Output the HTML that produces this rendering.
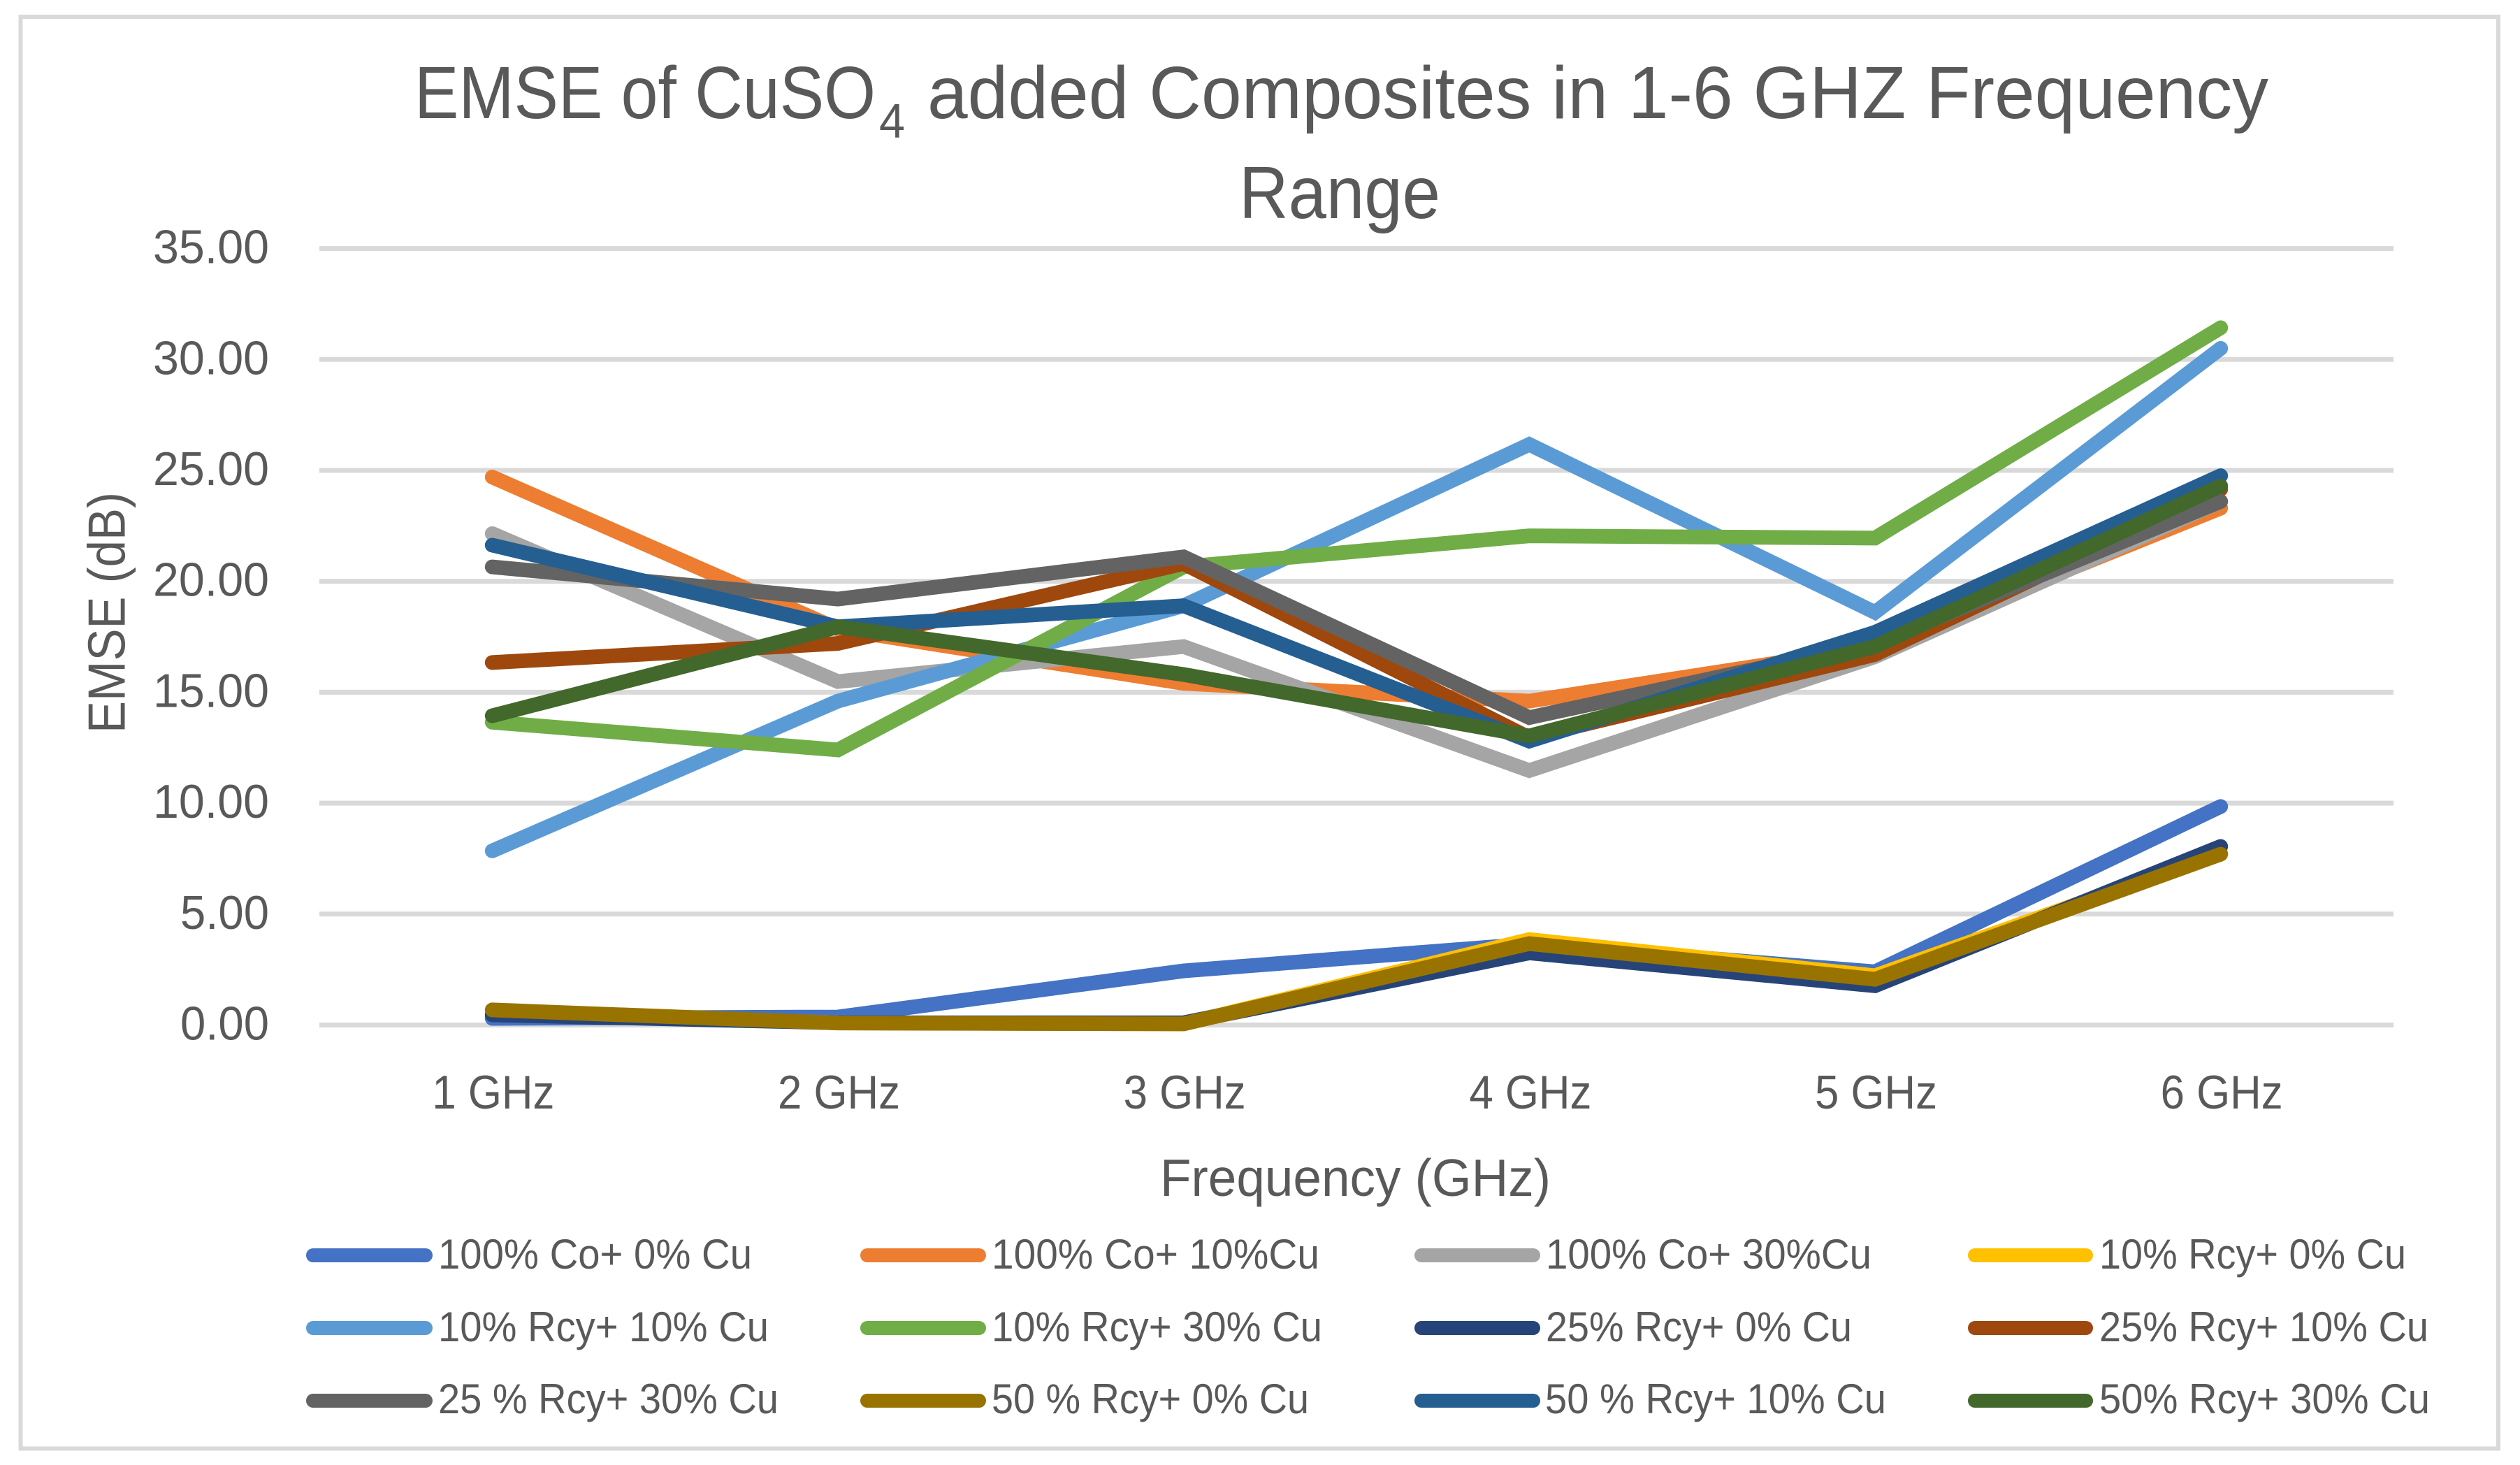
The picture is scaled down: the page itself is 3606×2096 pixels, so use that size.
<!DOCTYPE html>
<html lang="en">
<head>
<meta charset="utf-8">
<title>EMSE of CuSO4 added Composites in 1-6 GHZ Frequency Range</title>
<style>
  html, body { margin: 0; padding: 0; background: #ffffff; }
  svg { display: block; }
  text { font-family: "Liberation Sans", sans-serif; fill: #595959; }
</style>
</head>
<body>
<svg id="chart" xmlns="http://www.w3.org/2000/svg" width="3606" height="2096" viewBox="0 0 3606 2096">
  <rect x="0" y="0" width="3606" height="2096" fill="#ffffff"/>
  <rect x="29.5" y="24" width="3545.5" height="2048.5" fill="#ffffff" stroke="#d9d9d9" stroke-width="6"/>

  <g>
    <text x="593" y="169" font-size="106" textLength="660" lengthAdjust="spacingAndGlyphs">EMSE of CuSO</text>
    <text x="1258" y="197" font-size="70" textLength="37" lengthAdjust="spacingAndGlyphs">4</text>
    <text x="1327" y="169" font-size="106" textLength="1919" lengthAdjust="spacingAndGlyphs">added Composites in 1-6 GHZ Frequency</text>
    <text x="1773" y="312" font-size="106" textLength="288" lengthAdjust="spacingAndGlyphs">Range</text>
  </g>

  <g id="grid"></g>
  <g id="yTickGroup"></g>
  <g id="xTickGroup"></g>

  <text transform="translate(178.5 1049) rotate(-90)" x="0" y="0" font-size="75" textLength="345" lengthAdjust="spacingAndGlyphs">EMSE (dB)</text>
  <text x="1660" y="1711" font-size="75" textLength="559" lengthAdjust="spacingAndGlyphs">Frequency (GHz)</text>

  <g id="seriesGroup"></g>

  <g font-size="60">
    <g>
      <line x1="448" x2="609" y1="1796" y2="1796" stroke="#4472C4" stroke-width="20" stroke-linecap="round"/>
      <text x="627" y="1815" textLength="449" lengthAdjust="spacingAndGlyphs">100% Co+ 0% Cu</text>
    </g>
    <g>
      <line x1="1241" x2="1401" y1="1796" y2="1796" stroke="#ED7D31" stroke-width="20" stroke-linecap="round"/>
      <text x="1419" y="1815" textLength="469" lengthAdjust="spacingAndGlyphs">100% Co+ 10%Cu</text>
    </g>
    <g>
      <line x1="2034" x2="2194" y1="1796" y2="1796" stroke="#A5A5A5" stroke-width="20" stroke-linecap="round"/>
      <text x="2212" y="1815" textLength="466" lengthAdjust="spacingAndGlyphs">100% Co+ 30%Cu</text>
    </g>
    <g>
      <line x1="2826" x2="2985" y1="1796" y2="1796" stroke="#FFC000" stroke-width="20" stroke-linecap="round"/>
      <text x="3004" y="1815" textLength="439" lengthAdjust="spacingAndGlyphs">10% Rcy+ 0% Cu</text>
    </g>

    <g>
      <line x1="448" x2="609" y1="1900" y2="1900" stroke="#5B9BD5" stroke-width="20" stroke-linecap="round"/>
      <text x="627" y="1919" textLength="473" lengthAdjust="spacingAndGlyphs">10% Rcy+ 10% Cu</text>
    </g>
    <g>
      <line x1="1241" x2="1401" y1="1900" y2="1900" stroke="#70AD47" stroke-width="20" stroke-linecap="round"/>
      <text x="1419" y="1919" textLength="473" lengthAdjust="spacingAndGlyphs">10% Rcy+ 30% Cu</text>
    </g>
    <g>
      <line x1="2034" x2="2194" y1="1900" y2="1900" stroke="#264478" stroke-width="20" stroke-linecap="round"/>
      <text x="2212" y="1919" textLength="438" lengthAdjust="spacingAndGlyphs">25% Rcy+ 0% Cu</text>
    </g>
    <g>
      <line x1="2826" x2="2985" y1="1900" y2="1900" stroke="#9E480E" stroke-width="20" stroke-linecap="round"/>
      <text x="3004" y="1919" textLength="471" lengthAdjust="spacingAndGlyphs">25% Rcy+ 10% Cu</text>
    </g>

    <g>
      <line x1="448" x2="609" y1="2004" y2="2004" stroke="#636363" stroke-width="20" stroke-linecap="round"/>
      <text x="627" y="2022" textLength="487" lengthAdjust="spacingAndGlyphs">25 % Rcy+ 30% Cu</text>
    </g>
    <g>
      <line x1="1241" x2="1401" y1="2004" y2="2004" stroke="#997300" stroke-width="20" stroke-linecap="round"/>
      <text x="1419" y="2022" textLength="454" lengthAdjust="spacingAndGlyphs">50 % Rcy+ 0% Cu</text>
    </g>
    <g>
      <line x1="2034" x2="2194" y1="2004" y2="2004" stroke="#255E91" stroke-width="20" stroke-linecap="round"/>
      <text x="2211" y="2022" textLength="488" lengthAdjust="spacingAndGlyphs">50 % Rcy+ 10% Cu</text>
    </g>
    <g>
      <line x1="2826" x2="2985" y1="2004" y2="2004" stroke="#43682B" stroke-width="20" stroke-linecap="round"/>
      <text x="3004" y="2022" textLength="473" lengthAdjust="spacingAndGlyphs">50% Rcy+ 30% Cu</text>
    </g>
  </g>
</svg>

<script>
// Chart data
const categories = ["1 GHz", "2 GHz", "3 GHz", "4 GHz", "5 GHz", "6 GHz"];
const yTicks = [0, 5, 10, 15, 20, 25, 30, 35];

const co100cu0   = [0.30, 0.36, 2.44, 3.65, 2.40, 9.85];
const co100cu10  = [24.70, 17.85, 15.40, 14.60, 17.00, 23.30];
const co100cu30  = [22.15, 15.48, 17.06, 11.47, 16.60, 23.60];
const rcy10cu0   = [0.55, 0.10, 0.05, 3.85, 2.22, 7.75];
const rcy10cu10  = [7.85, 14.60, 18.90, 26.17, 18.60, 30.50];
const rcy10cu30  = [13.65, 12.40, 20.65, 22.05, 21.95, 31.43];
const rcy25cu0   = [0.46, 0.10, 0.10, 3.25, 1.77, 8.05];
const rcy25cu10  = [16.34, 17.20, 20.80, 12.95, 16.70, 24.15];
const rcy25cu30  = [20.65, 19.20, 21.10, 13.86, 17.20, 23.60];
const rcy50cu0   = [0.68, 0.09, 0.05, 3.67, 2.06, 7.70];
const rcy50cu10  = [21.63, 17.95, 18.90, 12.80, 17.70, 24.76];
const rcy50cu30  = [13.94, 17.95, 15.80, 13.03, 17.06, 24.30];

const seriesList = [co100cu0, co100cu10, co100cu30, rcy10cu0, rcy10cu10, rcy10cu30, rcy25cu0, rcy25cu10, rcy25cu30, rcy50cu0, rcy50cu10, rcy50cu30];
const seriesNames = ["100-co-0-cu", "100-co-10-cu", "100-co-30-cu", "10-rcy-0-cu", "10-rcy-10-cu", "10-rcy-30-cu", "25-rcy-0-cu", "25-rcy-10-cu", "25-rcy-30-cu", "50-rcy-0-cu", "50-rcy-10-cu", "50-rcy-30-cu"];
const seriesColors = ["#4472C4", "#ED7D31", "#A5A5A5", "#FFC000", "#5B9BD5", "#70AD47", "#264478", "#9E480E", "#636363", "#997300", "#255E91", "#43682B"];

// Plot area and axis functions
const plotLeft = 457, plotRight = 3425, plotTop = 355.6, plotBottom = 1466.5;
const yMin = 0, yMax = 35;
function xScale(i) {
  return plotLeft + (i + 0.5) * (plotRight - plotLeft) / categories.length;
}
function yScale(v) {
  return plotBottom - (v - yMin) / (yMax - yMin) * (plotBottom - plotTop);
}

const NS = "http://www.w3.org/2000/svg";
const gridGroup = document.getElementById("grid");
const yTickGroup = document.getElementById("yTickGroup");
const xTickGroup = document.getElementById("xTickGroup");
const seriesGroup = document.getElementById("seriesGroup");

yTicks.forEach(function (t) {
  const line = document.createElementNS(NS, "line");
  
  
  line.setAttribute("x1", plotLeft);
  line.setAttribute("x2", plotRight);
  line.setAttribute("y1", yScale(t));
  line.setAttribute("y2", yScale(t));
  line.setAttribute("stroke", "#d9d9d9");
  line.setAttribute("stroke-width", "7");
  gridGroup.appendChild(line);

  const text = t.toFixed(2);
  const label = document.createElementNS(NS, "text");
  
  
  label.setAttribute("x", 385);
  label.setAttribute("y", yScale(t) + 21);
  label.setAttribute("text-anchor", "end");
  label.setAttribute("font-size", "68");
  label.setAttribute("textLength", text.length > 4 ? "166" : "127");
  label.setAttribute("lengthAdjust", "spacingAndGlyphs");
  label.textContent = text;
  yTickGroup.appendChild(label);
});

categories.forEach(function (c, i) {
  const label = document.createElementNS(NS, "text");
  
  
  label.setAttribute("x", xScale(i) + 1.5);
  label.setAttribute("y", 1586);
  label.setAttribute("text-anchor", "middle");
  label.setAttribute("font-size", "68");
  label.setAttribute("textLength", "175");
  label.setAttribute("lengthAdjust", "spacingAndGlyphs");
  label.textContent = c;
  xTickGroup.appendChild(label);
});

seriesList.forEach(function (values, s) {
  const points = values.map(function (v, i) {
    return xScale(i).toFixed(2) + "," + yScale(v).toFixed(2);
  }).join(" ");
  const poly = document.createElementNS(NS, "polyline");
  
  
  poly.setAttribute("data-series", seriesNames[s]);
  poly.setAttribute("points", points);
  poly.setAttribute("fill", "none");
  poly.setAttribute("stroke", seriesColors[s]);
  poly.setAttribute("stroke-width", "21");
  poly.setAttribute("stroke-linecap", "round");
  poly.setAttribute("stroke-linejoin", "miter");
  seriesGroup.appendChild(poly);
});
</script>
</body>
</html>
